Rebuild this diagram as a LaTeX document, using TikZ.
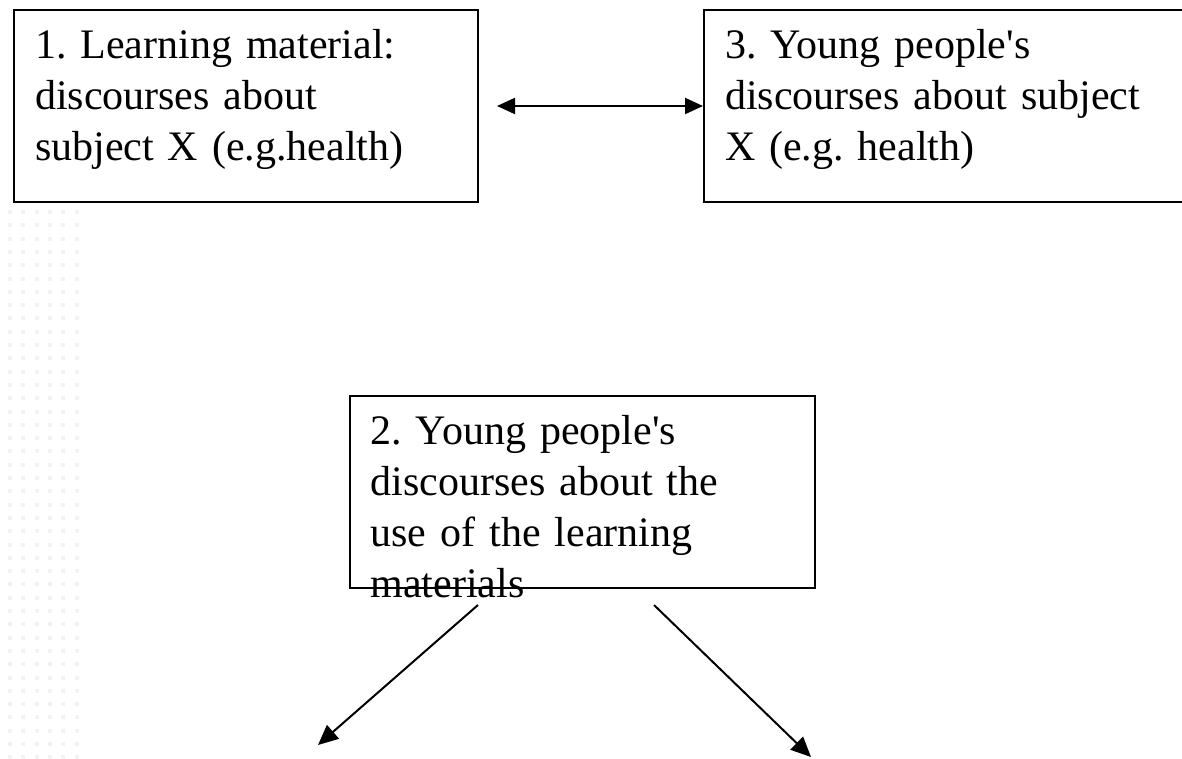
\documentclass[tikz,border=0pt]{standalone}
\usepackage{fontspec}
\setmainfont{Liberation Serif}
\usetikzlibrary{positioning, arrows.meta}

\begin{document}
\begin{tikzpicture}[x=0.5pt, y=-0.5pt,
        main/.style = {draw, line width=1pt, anchor=north west, align=left,
            inner xsep=10.5pt, inner ysep=0pt, text height=24.5pt, text depth=71.5pt,
            font=\fontsize{21pt}{25.5pt}\selectfont\frenchspacing},
        tip/.style = {line width=1pt, -{Triangle[length=10pt, width=9pt]}},
        twotips/.style = {line width=1pt, {Triangle[length=9pt, width=8pt]}-{Triangle[length=9pt, width=8pt]}}]
        \useasboundingbox (0,0) rectangle (1182,759);
        % faint dots down the left margin
        \foreach \i in {0,...,5}
            \foreach \j in {0,...,41}
                \fill[black!5] ({8+13.3*\i},{210+13.3*\j}) rectangle ++(4,4);
        \node[main, text width=211pt] (1) at (13,9) {1. Learning material:\\discourses about\\subject X (e.g.health)};
        \node[main, text width=224pt] (3) [right=112pt of 1] {3. Young people\textquotesingle s\\discourses about subject\\X (e.g. health)};
        \node[main, text width=211.5pt, text height=24pt, text depth=72pt] (2) [below=96pt of 1, xshift=168pt] {2. Young people\textquotesingle s\\discourses about the\\use of the learning\\materials};
        \coordinate (left) at (318,745);
        \coordinate (right) at (811,757);
        \draw[twotips] ([xshift=9pt]1.east) -- (3.west);
        \draw[tip] ([shift={(-104,16)}]2.south) -- (left);
        \draw[tip] ([shift={(72,16)}]2.south) -- (right);
\end{tikzpicture}
\end{document}
